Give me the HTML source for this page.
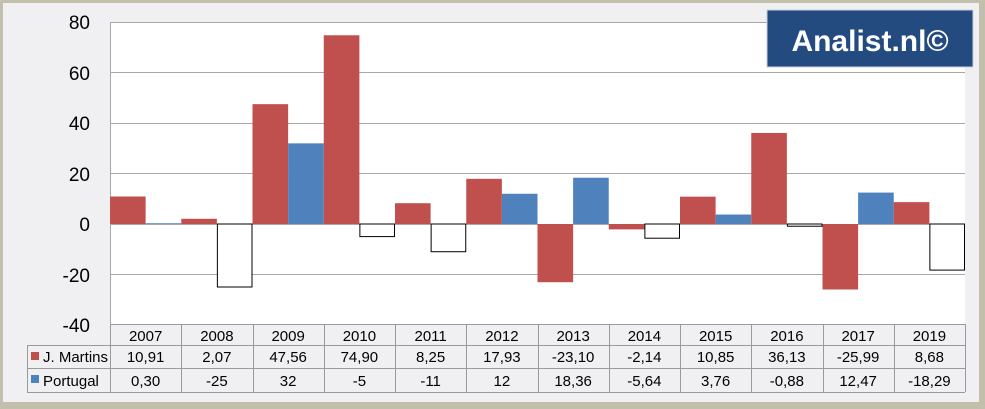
<!DOCTYPE html>
<html><head><meta charset="utf-8"><style>
html,body{margin:0;padding:0;background:#f0f0f2;}
svg{display:block;font-family:"Liberation Sans",sans-serif;}
</style></head><body>
<svg width="985" height="409" viewBox="0 0 985 409" xmlns="http://www.w3.org/2000/svg">
<rect x="0" y="0" width="985" height="409" fill="#c3bfad"/>
<rect x="3" y="3" width="976" height="399" fill="#f0f0f2"/>
<rect x="110" y="22" width="855" height="302" fill="#fff"/>
<g stroke="#a8a8a8" stroke-width="1">
<line x1="110" y1="22.5" x2="965" y2="22.5"/>
<line x1="110" y1="72.5" x2="965" y2="72.5"/>
<line x1="110" y1="123.5" x2="965" y2="123.5"/>
<line x1="110" y1="173.5" x2="965" y2="173.5"/>
<line x1="110" y1="224.5" x2="965" y2="224.5"/>
<line x1="110" y1="274.5" x2="965" y2="274.5"/>
<line x1="110.5" y1="22" x2="110.5" y2="324"/>
</g>
<g font-size="19" text-anchor="end" fill="#000">
<text x="90" y="29">80</text><text x="90" y="80">60</text><text x="90" y="130">40</text>
<text x="90" y="181">20</text><text x="90" y="231">0</text><text x="90" y="282">-20</text><text x="90" y="332">-40</text>
</g>
<g id="bars"></g>
<rect x="767" y="10" width="206" height="57" fill="#234b80" stroke="#c8d0dc" stroke-width="1"/>
<text x="870" y="51" font-size="30" font-weight="bold" fill="#fff" text-anchor="middle">Analist.nl©</text>
<g id="table" font-size="15" fill="#000"></g>
</svg>
<script>
var jm=[10.91,2.07,47.56,74.90,8.25,17.93,-23.10,-2.14,10.85,36.13,-25.99,8.68];
var pt=[0.30,-25,32,-5,-11,12,18.36,-5.64,3.76,-0.88,12.47,-18.29];
var jmS=["10,91","2,07","47,56","74,90","8,25","17,93","-23,10","-2,14","10,85","36,13","-25,99","8,68"];
var ptS=["0,30","-25","32","-5","-11","12","18,36","-5,64","3,76","-0,88","12,47","-18,29"];
var yrs=["2007","2008","2009","2010","2011","2012","2013","2014","2015","2016","2017","2019"];
var ns="http://www.w3.org/2000/svg";
function el(p,t,a,txt){var e=document.createElementNS(ns,t);for(var k in a)e.setAttribute(k,a[k]);if(txt!=null)e.textContent=txt;p.appendChild(e);return e;}
var b=document.getElementById("bars"),tb=document.getElementById("table");
var w=855/12;function Y(v){return 224-v*2.52;}
for(var i=0;i<12;i++){var x0=110+i*w;
 var v=jm[i];el(b,"rect",{x:x0,y:Math.min(Y(v),224),width:w/2,height:Math.abs(v*2.52),fill:"#c0504d"});
 v=pt[i];if(v>=0)el(b,"rect",{x:x0+w/2,y:Y(v),width:w/2,height:v*2.52,fill:"#4f81bd"});
 else el(b,"rect",{x:x0+w/2+0.5,y:224,width:w/2-1,height:-v*2.52,fill:"#fff",stroke:"#000","stroke-width":1});
 var cx=x0+w/2;
 el(tb,"text",{x:cx,y:341,"text-anchor":"middle"},yrs[i]);
 el(tb,"text",{x:cx,y:362,"text-anchor":"middle"},jmS[i]);
 el(tb,"text",{x:cx,y:386,"text-anchor":"middle"},ptS[i]);
}
var g=el(tb,"g",{stroke:"#9a9a9a","stroke-width":1,fill:"none"});
el(g,"line",{x1:110,y1:324.5,x2:965,y2:324.5});
el(g,"line",{x1:27,y1:345.5,x2:965,y2:345.5});
el(g,"line",{x1:27,y1:368.5,x2:965,y2:368.5});
el(g,"line",{x1:27,y1:392.5,x2:965,y2:392.5});
el(g,"line",{x1:27.5,y1:345,x2:27.5,y2:392});
for(var i=0;i<=12;i++){var x=Math.round(110+i*w)+0.5;el(g,"line",{x1:x,y1:324,x2:x,y2:392});}
el(tb,"rect",{x:31,y:352,width:8,height:8,fill:"#c0504d"});
el(tb,"rect",{x:31,y:375,width:8,height:8,fill:"#4f81bd"});
el(tb,"text",{x:43,y:362},"J. Martins");
el(tb,"text",{x:43,y:386},"Portugal");
</script>
</body></html>
